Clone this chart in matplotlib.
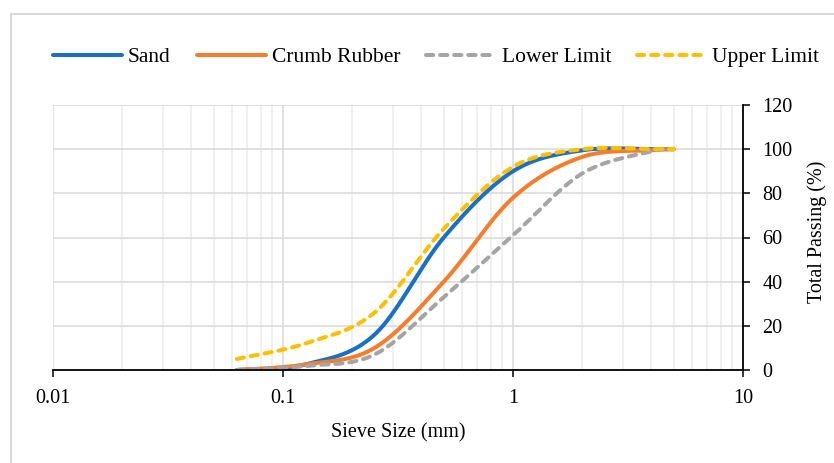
import matplotlib
matplotlib.use("Agg")
import matplotlib.pyplot as plt
import numpy as np
from matplotlib.patches import Rectangle
from matplotlib.ticker import FixedLocator, FuncFormatter, LogLocator, NullFormatter

plt.rcParams["font.family"] = ["Liberation Serif", "DejaVu Serif"]
plt.rcParams["font.size"] = 14.5

# sieve sizes (mm) and percent passing
sieve_mm = [0.063, 0.125, 0.25, 0.5, 1, 2, 4, 5]
sand = [0, 2.5, 16, 60, 90, 99.5, 100, 100]
crumb_rubber = [0, 2.5, 10, 40, 78, 96.5, 99.5, 100]
lower_limit = [0, 1.8, 7, 33, 61, 89, 99, 100]
upper_limit = [5, 12, 26, 64, 92, 100, 100, 100]

series = [
    ("Sand", sand, "#1A70C3", "-"),
    ("Crumb Rubber", crumb_rubber, "#F57E2D", "-"),
    ("Lower Limit", lower_limit, "#A5A5A5", "--"),
    ("Upper Limit", upper_limit, "#FFC000", "--"),
]


def smooth(xs, ys, n=40):
    """Catmull-Rom through the points in (log x, y), like Excel's smoothed lines."""
    lx = np.log10(np.asarray(xs, dtype=float))
    y = np.asarray(ys, dtype=float)
    px = np.concatenate([[lx[0]], lx, [lx[-1]]])
    py = np.concatenate([[y[0]], y, [y[-1]]])
    out_x, out_y = [], []
    t = np.linspace(0, 1, n)
    for i in range(1, len(px) - 2):
        for p, out in ((px, out_x), (py, out_y)):
            p0, p1, p2, p3 = p[i - 1], p[i], p[i + 1], p[i + 2]
            m1 = (p2 - p0) / 2
            m2 = (p3 - p1) / 2
            h00 = 2 * t**3 - 3 * t**2 + 1
            h10 = t**3 - 2 * t**2 + t
            h01 = -2 * t**3 + 3 * t**2
            h11 = t**3 - t**2
            out.extend(h00 * p1 + h10 * m1 + h01 * p2 + h11 * m2)
    return 10 ** np.array(out_x), np.array(out_y)


fig = plt.figure(figsize=(8.34, 4.63), dpi=100)
ax = fig.add_axes([53 / 834, 1 - 370 / 463, 690 / 834, 265 / 463])

for name, vals, color, ls in series:
    sx, sy = smooth(sieve_mm, vals)
    line, = ax.plot(sx, sy, color=color, lw=2.9, ls=ls, label=name,
                    solid_capstyle="round", dash_capstyle="round")
    if ls == "--":
        line.set_dashes((1.8, 1.7))

ax.set_xscale("log")
ax.set_xlim(0.01, 10)
ax.set_ylim(0, 120)
ax.xaxis.set_major_locator(FixedLocator([0.01, 0.1, 1, 10]))
ax.xaxis.set_major_formatter(FuncFormatter(lambda v, _: f"{v:g}"))
ax.xaxis.set_minor_locator(LogLocator(base=10, subs=np.arange(2, 10)))
ax.xaxis.set_minor_formatter(NullFormatter())
ax.set_yticks(np.arange(0, 121, 20))

ax.yaxis.tick_right()
ax.yaxis.set_label_position("right")
ax.tick_params(axis="x", which="major", direction="out", length=5, width=1.1, pad=9)
ax.tick_params(axis="x", which="minor", length=0)
ax.tick_params(axis="y", direction="out", length=5, width=1.1, pad=9)

ax.grid(True, which="major", color="#D9D9D9", lw=1.1)
ax.grid(True, which="minor", axis="x", color="#ECECEC", lw=1.1)
ax.set_axisbelow(True)

for side in ("left", "top"):
    ax.spines[side].set_visible(False)
for side in ("bottom", "right"):
    ax.spines[side].set_linewidth(1.3)
    ax.spines[side].set_color("black")

ax.set_xlabel("Sieve Size (mm)")
ax.xaxis.set_label_coords(0.5, -0.238)
ax.xaxis.label.set_verticalalignment("center")
ax.set_ylabel("Total Passing (%)")
ax.yaxis.set_label_coords(1.107, 0.52)
ax.yaxis.label.set_verticalalignment("center")

fig.legend(loc="center", bbox_to_anchor=(436 / 834, 1 - 57 / 463), ncol=4,
           frameon=False, fontsize=15.5, handlelength=3.2, handletextpad=0.3,
           columnspacing=1.2)

# light outer frame, only its left and top edges fall inside the image
top = 1 - 14 / 463
fig.patches.append(Rectangle((11 / 834, -0.2), 1.2, top + 0.2,
                             transform=fig.transFigure, fill=False,
                             edgecolor="#D9D9D9", lw=1.5))

fig.savefig("out.png", dpi=100)
